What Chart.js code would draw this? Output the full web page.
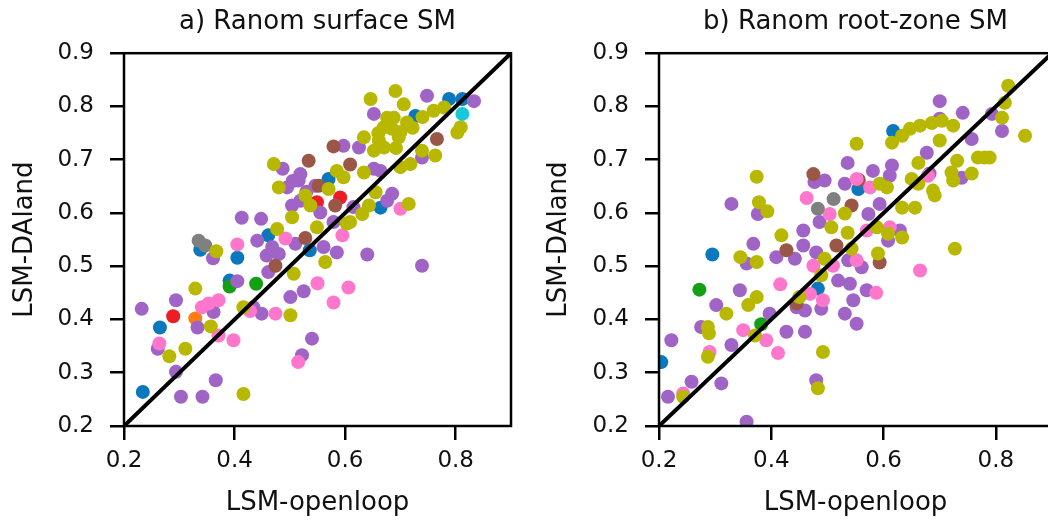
<!DOCTYPE html>
<html>
<head>
<meta charset="utf-8">
<script src="https://cdn.jsdelivr.net/npm/chart.js@4.4.1/dist/chart.umd.min.js"></script>
<style>
body{margin:0;background:#fff;overflow:hidden;}
#wrap{position:relative;width:1048px;height:520px;overflow:hidden;}
canvas{position:absolute;top:0;}
</style>
</head>
<body>
<div id="wrap">
  <canvas id="surf" width="530" height="520" style="left:0"></canvas>
  <canvas id="root" width="540" height="520" style="left:530px"></canvas>
</div>
<script>
// ================= DATA =================
const xTicks = [0.2, 0.4, 0.6, 0.8];
const yTicks = [0.2, 0.3, 0.4, 0.5, 0.6, 0.7, 0.8, 0.9];
const oneToOne = [0.2, 0.9];

const titles = ["a) Ranom surface SM", "b) Ranom root-zone SM"];
const xLabel = "LSM-openloop";
const yLabel = "LSM-DAland";

// a) surface SM, [openloop, DAland] per site, grouped by colour
const surfBlue = [[0.234,0.264],[0.265,0.385],[0.338,0.531],[0.405,0.516],[0.391,0.473],[0.461,0.558],
  [0.536,0.530],[0.664,0.610],[0.727,0.782],[0.788,0.814],[0.812,0.814],[0.570,0.664]];
const surfOrange = [[0.329,0.402]];
const surfGreen = [[0.391,0.462],[0.439,0.467]];
const surfRed = [[0.289,0.406],[0.591,0.629],[0.549,0.620]];
const surfPurple = [[0.232,0.420],[0.294,0.436],[0.261,0.345],[0.333,0.385],[0.294,0.302],[0.303,0.255],
  [0.342,0.255],[0.366,0.286],[0.362,0.414],[0.361,0.515],[0.405,0.472],[0.413,0.591],[0.448,0.589],
  [0.441,0.548],[0.468,0.536],[0.480,0.523],[0.458,0.520],[0.510,0.542],[0.561,0.536],[0.585,0.526],
  [0.640,0.522],[0.739,0.501],[0.449,0.411],[0.434,0.423],[0.501,0.442],[0.525,0.453],[0.540,0.364],
  [0.522,0.333],[0.487,0.683],[0.516,0.661],[0.504,0.614],[0.519,0.623],[0.555,0.601],[0.579,0.583],
  [0.615,0.611],[0.652,0.786],[0.748,0.820],[0.833,0.810],[0.739,0.704],[0.685,0.636],[0.664,0.679],
  [0.625,0.723],[0.597,0.726],[0.461,0.489],[0.546,0.651],[0.495,0.648],[0.519,0.673],[0.676,0.623],
  [0.652,0.683],[0.505,0.660],[0.530,0.640]];
const surfBrown = [[0.474,0.501],[0.528,0.553],[0.534,0.698],[0.579,0.725],[0.609,0.691],[0.552,0.651],
  [0.582,0.614],[0.766,0.739]];
const surfPink = [[0.264,0.355],[0.341,0.423],[0.353,0.430],[0.371,0.436],[0.398,0.361],[0.371,0.370],
  [0.405,0.541],[0.492,0.552],[0.474,0.411],[0.428,0.416],[0.550,0.468],[0.606,0.460],[0.579,0.432],
  [0.595,0.558],[0.515,0.320],[0.700,0.608]];
const surfGray = [[0.335,0.548],[0.347,0.539]];
const surfOlive = [[0.416,0.260],[0.282,0.331],[0.311,0.345],[0.357,0.387],[0.329,0.458],[0.367,0.528],
  [0.416,0.423],[0.501,0.408],[0.507,0.486],[0.564,0.508],[0.477,0.570],[0.504,0.592],[0.480,0.648],
  [0.471,0.692],[0.549,0.573],[0.528,0.633],[0.537,0.614],[0.570,0.645],[0.585,0.679],[0.603,0.580],
  [0.631,0.598],[0.643,0.614],[0.655,0.639],[0.634,0.676],[0.597,0.667],[0.715,0.617],[0.700,0.686],
  [0.718,0.692],[0.763,0.708],[0.739,0.717],[0.809,0.761],[0.803,0.751],[0.760,0.792],[0.779,0.798],
  [0.646,0.814],[0.691,0.829],[0.706,0.804],[0.634,0.742],[0.661,0.736],[0.652,0.717],[0.670,0.723],
  [0.697,0.742],[0.676,0.779],[0.688,0.779],[0.712,0.770],[0.670,0.761],[0.609,0.583],
  [0.660,0.750],[0.685,0.758],[0.700,0.752],[0.722,0.760],[0.740,0.780],[0.692,0.722]];
const surfCyan = [[0.812,0.786]];

// b) root-zone SM
const rootBlue = [[0.204,0.320],[0.295,0.522],[0.483,0.458],[0.617,0.754],[0.555,0.645]];
const rootOrange = [];
const rootGreen = [[0.272,0.456],[0.382,0.391]];
const rootRed = [];
const rootPurple = [[0.216,0.255],[0.222,0.361],[0.258,0.283],[0.311,0.280],[0.329,0.352],[0.356,0.208],
  [0.275,0.386],[0.302,0.427],[0.344,0.455],[0.329,0.617],[0.376,0.598],[0.368,0.542],[0.356,0.505],
  [0.409,0.517],[0.442,0.514],[0.457,0.567],[0.457,0.539],[0.477,0.658],[0.486,0.583],[0.480,0.526],
  [0.427,0.377],[0.460,0.377],[0.445,0.423],[0.460,0.417],[0.489,0.420],[0.397,0.411],[0.480,0.286],
  [0.531,0.411],[0.552,0.392],[0.546,0.436],[0.519,0.473],[0.540,0.467],[0.570,0.455],[0.561,0.498],
  [0.537,0.511],[0.536,0.694],[0.531,0.655],[0.581,0.679],[0.615,0.689],[0.611,0.670],[0.608,0.548],
  [0.593,0.617],[0.629,0.567],[0.677,0.713],[0.682,0.674],[0.700,0.810],[0.700,0.777],[0.741,0.788],
  [0.757,0.739],[0.739,0.666],[0.793,0.786],[0.811,0.754],[0.573,0.598],[0.495,0.661]];
const rootBrown = [[0.475,0.673],[0.427,0.530],[0.543,0.614],[0.556,0.662],[0.516,0.539],[0.593,0.507],
  [0.445,0.430]];
const rootPink = [[0.243,0.261],[0.290,0.339],[0.350,0.380],[0.391,0.361],[0.412,0.337],[0.416,0.466],
  [0.463,0.628],[0.504,0.598],[0.492,0.436],[0.475,0.501],[0.510,0.501],[0.552,0.511],[0.552,0.664],
  [0.576,0.648],[0.587,0.450],[0.665,0.492],[0.570,0.567],[0.611,0.573],[0.679,0.670],[0.469,0.448]];
const rootGray = [[0.483,0.608],[0.511,0.626]];
const rootOlive = [[0.243,0.255],[0.287,0.330],[0.287,0.386],[0.289,0.374],[0.320,0.411],[0.345,0.517],
  [0.374,0.668],[0.378,0.620],[0.393,0.603],[0.374,0.508],[0.359,0.427],[0.374,0.442],[0.371,0.370],
  [0.418,0.558],[0.450,0.442],[0.489,0.483],[0.492,0.339],[0.483,0.271],[0.495,0.514],[0.507,0.573],
  [0.531,0.599],[0.536,0.563],[0.543,0.533],[0.552,0.730],[0.590,0.524],[0.588,0.573],[0.593,0.655],
  [0.606,0.648],[0.608,0.561],[0.633,0.554],[0.633,0.610],[0.656,0.610],[0.650,0.664],[0.662,0.694],
  [0.662,0.655],[0.688,0.642],[0.691,0.633],[0.700,0.736],[0.724,0.764],[0.724,0.661],[0.721,0.676],
  [0.731,0.698],[0.757,0.674],[0.768,0.704],[0.780,0.704],[0.789,0.704],[0.727,0.533],[0.811,0.779],
  [0.816,0.807],[0.822,0.839],[0.852,0.745],[0.615,0.732],[0.633,0.745],[0.647,0.758],[0.665,0.764],
  [0.686,0.769],[0.704,0.773]];
const rootCyan = [];

// ================= STYLE =================
const colors = ["#0b77bd","#ff7f0e","#14a014","#ee1c24","#a064c6","#9a5646","#ff77cc","#808080","#b8b800","#17c8d8"];
const FONT = "'DejaVu Sans', sans-serif";
Chart.defaults.font.family = FONT;
Chart.defaults.color = "#111";

// matplotlib spines on all four sides
const frame = {
  id: "frame",
  afterDraw(chart){
    const a = chart.chartArea, c = chart.ctx;
    c.save();
    c.strokeStyle = "#000";
    c.lineWidth = 2.5;
    c.strokeRect(a.left, a.top, a.right - a.left, a.bottom - a.top);
    c.restore();
  }
};

// ================= CHART =================
function makeChart(id, title, groups, yWidth, padRight, yTitlePad){
  const datasets = groups.map((pts, i) => ({
    type: "scatter",
    data: pts.map(p => ({x: p[0], y: p[1]})),
    backgroundColor: colors[i],
    pointRadius: 7,
    pointBorderWidth: 0,
    pointHoverRadius: 7,
    clip: 0,
    order: 10 - i
  }));

  datasets.push({
    type: "line",
    data: oneToOne.map(v => ({x: v, y: v})),
    borderColor: "#000",
    borderWidth: 4,
    pointRadius: 0,
    fill: false,
    clip: 0,
    order: 0
  });

  return new Chart(document.getElementById(id), {
    type: "scatter",
    data: {datasets},
    options: {
      responsive: false,
      animation: false,
      events: [],
      layout: {padding: {right: padRight}},
      plugins: {
        legend: {display: false},
        tooltip: {enabled: false},
        title: {
          display: true,
          text: title,
          fullSize: false,
          color: "#111",
          font: {size: 26, weight: "normal"},
          padding: {top: 7, bottom: 15}
        }
      },
      scales: {
        x: {
          type: "linear",
          min: 0.2, max: 0.9,
          afterBuildTicks: s => { s.ticks = xTicks.map(v => ({value: v})); },
          afterFit: s => { s.height = 94; },
          ticks: {font: {size: 23}, color: "#111", padding: 7, callback: v => v.toFixed(1)},
          grid: {drawOnChartArea: false, drawTicks: true, tickLength: 14, lineWidth: 2.5, tickWidth: 2.5, tickColor: "#000"},
          border: {display: false},
          title: {display: true, text: xLabel, color: "#111", font: {size: 26}, padding: {top: 0, bottom: 1}}
        },
        y: {
          type: "linear",
          min: 0.2, max: 0.9,
          afterBuildTicks: s => { s.ticks = yTicks.map(v => ({value: v})); },
          afterFit: s => { s.width = yWidth; },
          ticks: {font: {size: 23}, color: "#111", padding: 16, callback: v => v.toFixed(1)},
          grid: {drawOnChartArea: false, drawTicks: true, tickLength: 14, lineWidth: 2.5, tickWidth: 2.5, tickColor: "#000"},
          border: {display: false},
          title: {display: true, text: yLabel, color: "#111", font: {size: 26}, padding: {top: yTitlePad, bottom: 0}}
        }
      }
    },
    plugins: [frame]
  });
}

makeChart("surf", titles[0],
  [surfBlue, surfOrange, surfGreen, surfRed, surfPurple, surfBrown, surfPink, surfGray, surfOlive, surfCyan],
  124, 19, 10);

makeChart("root", titles[1],
  [rootBlue, rootOrange, rootGreen, rootRed, rootPurple, rootBrown, rootPink, rootGray, rootOlive, rootCyan],
  129, 18, 14);
</script>
</body>
</html>
